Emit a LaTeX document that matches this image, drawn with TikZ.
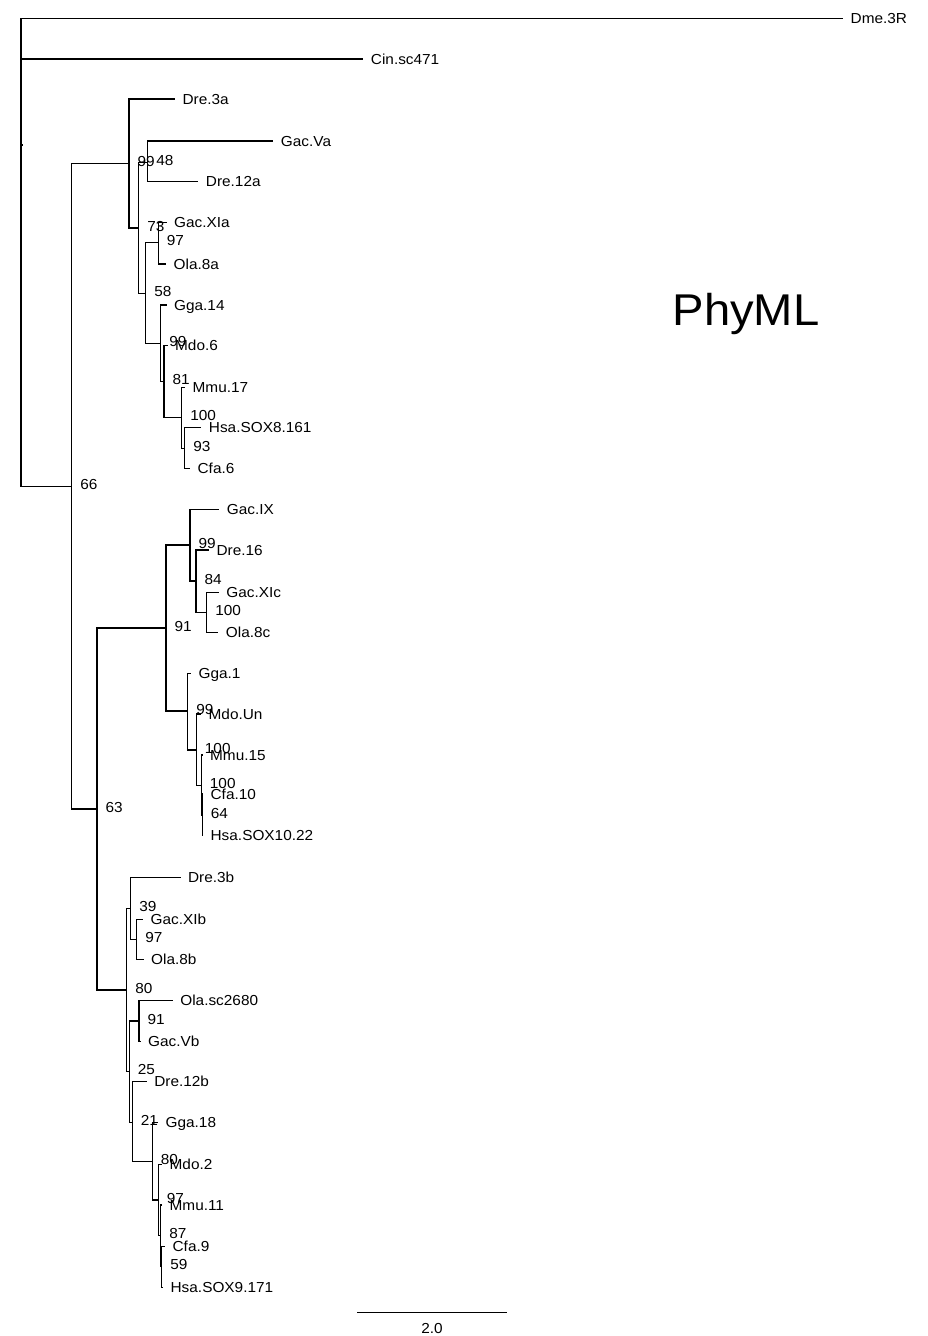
\documentclass[tikz,border=0pt]{standalone}
\usepackage{fontspec}
\setmainfont{Liberation Sans}[FakeStretch=1.06]
\begin{document}
\begin{tikzpicture}[x=1pt,y=-1pt,line width=1.3pt,
  tip/.style={anchor=west,inner xsep=7pt,inner ysep=0pt,text height=10.4pt,text depth=0pt,font=\fontsize{14.5}{16}\selectfont},
  boot/.style={anchor=base west,inner sep=0pt,font=\fontsize{14.5}{16}\selectfont},
  branch/.style={draw,line width=1.3pt}]
\useasboundingbox (0,0) rectangle (928,1336);
% internal nodes
\coordinate (root) at (21,145);
\coordinate (n66) at (71.7,486.5);
\coordinate (n99a) at (129,163.5);
\coordinate (n73) at (138.7,228);
\coordinate (n48) at (147.7,162.5);
\coordinate (n58) at (145.7,293.3);
\coordinate (n97a) at (158.3,242.7);
\coordinate (n99b) at (160.7,343.3);
\coordinate (n81) at (164,381.7);
\coordinate (n100a) at (181.7,417.3);
\coordinate (n93) at (184.7,448.3);
\coordinate (n63) at (97,809);
\coordinate (n91) at (166,628);
\coordinate (n99c) at (190,545);
\coordinate (n84) at (196,581);
\coordinate (n100b) at (206.7,612.3);
\coordinate (n99d) at (187.7,711);
\coordinate (n100c) at (196.3,750);
\coordinate (n100d) at (201.3,785.7);
\coordinate (n64) at (202.3,815);
\coordinate (n80) at (126.7,990);
\coordinate (n39) at (130.7,908.3);
\coordinate (n97b) at (136.7,939.3);
\coordinate (n25) at (129.3,1071.7);
\coordinate (n91b) at (139,1021);
\coordinate (n21) at (132.3,1122.7);
\coordinate (n80b) at (152.3,1161.7);
\coordinate (n97c) at (158.3,1200);
\coordinate (n87) at (160.7,1235.7);
\coordinate (n59) at (161.7,1266.7);
% tips
\node[tip] (Dme) at (843,18.3) {Dme.3R};
\node[tip] (Cin) at (363.3,59) {Cin.sc471};
\node[tip] (Dre3a) at (175,99) {Dre.3a};
\node[tip] (GacVa) at (273.3,141) {Gac.Va};
\node[tip] (Dre12a) at (198.3,181.7) {Dre.12a};
\node[tip] (GacXIa) at (166.5,222.7) {Gac.XIa};
\node[tip] (Ola8a) at (166,264) {Ola.8a};
\node[tip] (Gga14) at (166.5,305) {Gga.14};
\node[tip] (Mdo6) at (167.5,345.7) {Mdo.6};
\node[tip] (Mmu17) at (185,387.3) {Mmu.17};
\node[tip] (HsaSOXviii) at (201.3,427.7) {Hsa.SOX8.161};
\node[tip] (Cfa6) at (190,468.3) {Cfa.6};
\node[tip] (GacIX) at (219.3,509.3) {Gac.IX};
\node[tip] (Dre16) at (209,550) {Dre.16};
\node[tip] (GacXIc) at (218.7,592.3) {Gac.XIc};
\node[tip] (Ola8c) at (218.3,632.3) {Ola.8c};
\node[tip] (Gga1) at (191,673.3) {Gga.1};
\node[tip] (MdoUn) at (201,714) {Mdo.Un};
\node[tip] (Mmu15) at (202.5,755) {Mmu.15};
\node[tip] (Cfa10) at (203,794) {Cfa.10};
\node[tip] (HsaSOXx) at (203,835) {Hsa.SOX10.22};
\node[tip] (Dre3b) at (180.5,877.3) {Dre.3b};
\node[tip] (GacXIb) at (143,919.3) {Gac.XIb};
\node[tip] (Ola8b) at (143.5,959.3) {Ola.8b};
\node[tip] (Olasc) at (172.7,1000.7) {Ola.sc2680};
\node[tip] (GacVb) at (140.5,1041.7) {Gac.Vb};
\node[tip] (Dre12b) at (146.7,1081.7) {Dre.12b};
\node[tip] (Gga18) at (158,1122.7) {Gga.18};
\node[tip] (Mdo2) at (162,1164.3) {Mdo.2};
\node[tip] (Mmu11) at (162,1205) {Mmu.11};
\node[tip] (Cfa9) at (165,1246.7) {Cfa.9};
\node[tip] (HsaSOXix) at (163,1287.3) {Hsa.SOX9.171};
% branches
\foreach \p/\c in {root/Dme.west,root/Cin.west,root/n66,
  n66/n99a,n66/n63,
  n99a/Dre3a.west,n99a/n73,
  n73/n48,n73/n58,
  n48/GacVa.west,n48/Dre12a.west,
  n58/n97a,n58/n99b,
  n97a/GacXIa.west,n97a/Ola8a.west,
  n99b/Gga14.west,n99b/n81,
  n81/Mdo6.west,n81/n100a,
  n100a/Mmu17.west,n100a/n93,
  n93/HsaSOXviii.west,n93/Cfa6.west,
  n63/n91,n63/n80,
  n91/n99c,n91/n99d,
  n99c/GacIX.west,n99c/n84,
  n84/Dre16.west,n84/n100b,
  n100b/GacXIc.west,n100b/Ola8c.west,
  n99d/Gga1.west,n99d/n100c,
  n100c/MdoUn.west,n100c/n100d,
  n100d/Mmu15.west,n100d/n64,
  n64/Cfa10.west,n64/HsaSOXx.west,
  n80/n39,n80/n25,
  n39/Dre3b.west,n39/n97b,
  n97b/GacXIb.west,n97b/Ola8b.west,
  n25/n91b,n25/n21,
  n91b/Olasc.west,n91b/GacVb.west,
  n21/Dre12b.west,n21/n80b,
  n80b/Gga18.west,n80b/n97c,
  n97c/Mdo2.west,n97c/n87,
  n87/Mmu11.west,n87/n59,
  n59/Cfa9.west,n59/HsaSOXix.west}
  \draw[branch] (\p) |- (\c);
\draw[branch] (root) -- ++(1.6,0);
% bootstrap values
\foreach \n/\v in {n66/66,n99a/99,n73/73,n48/48,n58/58,n97a/97,n99b/99,n81/81,n100a/100,n93/93,
  n63/63,n91/91,n99c/99,n84/84,n100b/100,n99d/99,n100c/100,n100d/100,n64/64,
  n80/80,n39/39,n97b/97,n25/25,n91b/91,n21/21,n80b/80,n97c/97,n87/87,n59/59}
  \node[boot] (b\n) at ([shift={(8,3.2)}]\n) {\v};
% title
\node[anchor=base west,inner sep=0pt,font=\fontsize{44.5}{50}\selectfont] (title) at (672,325) {PhyML};
% scale bar
\coordinate (sbL) at (357.3,1312.7);
\coordinate (sbR) at (507.3,1312.7);
\draw[branch] (sbL) -- (sbR);
\node[anchor=base,inner sep=0pt,font=\fontsize{14.5}{16}\selectfont] (sblabel) at (432,1333) {2.0};
\end{tikzpicture}
\end{document}
